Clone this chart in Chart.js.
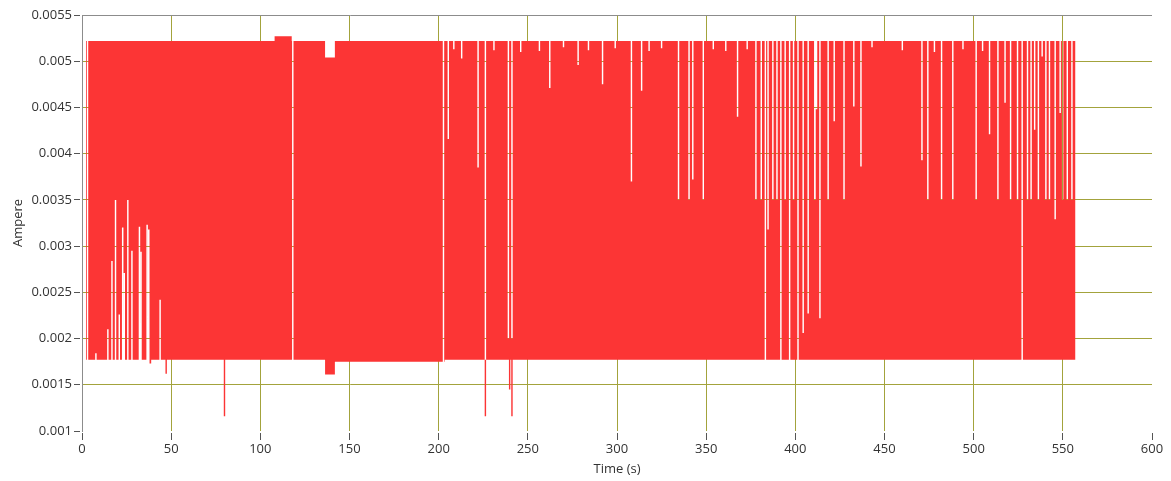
<!DOCTYPE html>
<html>
<head>
<meta charset="utf-8">
<title>Ampere</title>
<script src="https://cdn.jsdelivr.net/npm/chart.js@4.4.0/dist/chart.umd.min.js"></script>
<style>
  html, body { margin: 0; padding: 0; background: #fff; }
  canvas { display: block; }
</style>
</head>
<body>
<canvas id="grafico" width="1171" height="481"></canvas>
<script>
// ejes
const xTicks = [0, 50, 100, 150, 200, 250, 300, 350, 400, 450, 500, 550, 600];
const yTicks = [0.001, 0.0015, 0.002, 0.0025, 0.003, 0.0035, 0.004, 0.0045, 0.005, 0.0055];
const yTickLabels = ['0.001', '0.0015', '0.002', '0.0025', '0.003', '0.0035', '0.004', '0.0045', '0.005', '0.0055'];

// inicio y fin del registro (s)
const traceSpan = [2.2, 557.1];

// envolvente superior: cambios de nivel (s, A)
const peakStepTimes  = [2.2, 108.0, 117.6, 136.3, 141.8];
const peakStepLevels = [0.00522, 0.00527, 0.00522, 0.00504, 0.00522];

// envolvente inferior: cambios de nivel (s, A)
const troughStepTimes  = [2.2, 136.3, 141.8, 203.4];
const troughStepLevels = [0.00177, 0.00161, 0.00175, 0.00177];

// huecos desde arriba: el pico solo llega hasta ese nivel
const dipTimes = [205.4, 208.5, 212.9, 222.1, 231.0, 239.1, 241.1, 246.0, 256.5, 262.3, 270.0,
  278.2, 284.0, 291.9, 299.0, 308.1, 313.8, 318.0, 325.0, 334.5, 340.4, 342.5, 348.4, 354.0,
  361.0, 367.6, 373.0, 377.9, 380.9, 384.7, 387.4, 389.7, 394.3, 399.0, 404.4, 407.2, 410.9,
  411.9, 413.8, 418.4, 421.8, 427.3, 432.8, 436.8, 443.0, 460.0, 471.0, 474.3, 478.0, 482.0,
  488.3, 494.0, 501.4, 505.0, 508.9, 513.6, 517.6, 520.7, 524.6, 530.2, 532.2, 534.2, 536.3,
  538.4, 540.5, 542.5, 545.7, 548.5, 549.9, 552.5, 555.1];
const dipLevels = [0.00416, 0.00513, 0.00503, 0.00385, 0.00512, 0.0020, 0.0020, 0.00510, 0.00511, 0.00471, 0.00515,
  0.00496, 0.00512, 0.00475, 0.00514, 0.00370, 0.00468, 0.00511, 0.00514, 0.00350, 0.00350, 0.00372, 0.00350, 0.00513,
  0.00511, 0.00440, 0.00513, 0.00350, 0.00350, 0.00318, 0.00350, 0.00350, 0.00350, 0.00350, 0.00206, 0.00227, 0.00350,
  0.00448, 0.00222, 0.00350, 0.00435, 0.00350, 0.00451, 0.00386, 0.00515, 0.00512, 0.00393, 0.00350, 0.00510, 0.00350,
  0.00350, 0.00513, 0.00350, 0.00511, 0.00421, 0.00350, 0.00455, 0.00350, 0.00350, 0.00350, 0.00350, 0.00426, 0.00350,
  0.00505, 0.00350, 0.00350, 0.00329, 0.00444, 0.00350, 0.00350, 0.00350];

// cortes completos de la señal
const breakTimes = [3.1, 118.2, 202.7, 226.2, 383.2, 391.9, 396.8, 401.5, 527.2];

// huecos desde abajo: el valle solo baja hasta ese nivel
const riseTimes  = [7.8, 14.5, 16.8, 18.8, 20.9, 22.8, 23.7, 25.7, 28.0, 32.2, 33.1, 36.5, 37.4, 43.8];
const riseLevels = [0.00184, 0.00210, 0.00284, 0.00350, 0.00226, 0.00320, 0.00271, 0.00350, 0.00295, 0.00321, 0.00294, 0.00323, 0.00318, 0.00242];

// picos por debajo del valle
const spikeTimes  = [38.4, 47.2, 79.9, 226.2, 239.8, 241.1];
const spikeLevels = [0.00173, 0.00162, 0.00116, 0.00116, 0.00145, 0.00116];

const NOTCH = 0.4; // medio ancho de cada hueco, en segundos
const rojo = '#fc3535';
const oliva = '#a3a33c';
const gris = '#8c8c8c';
const nada = 'rgba(0,0,0,0)';

function levelAt(times, levels, t) {
  let lv = levels[0];
  times.forEach((tt, i) => { if (tt <= t) lv = levels[i]; });
  return lv;
}

// arma la envolvente como escalones con muescas angostas
function envolvente(stepTimes, stepLevels, notchTimes, notchLevels) {
  const eventos = [];
  for (let i = 1; i < stepTimes.length; i++) {
    eventos.push({ t: stepTimes[i], step: true, y: stepLevels[i] });
  }
  notchTimes.forEach((t, i) => eventos.push({ t, step: false, y: notchLevels[i] }));
  eventos.sort((a, b) => a.t - b.t);

  let actual = stepLevels[0];
  const puntos = [{ x: traceSpan[0], y: actual }];
  eventos.forEach(e => {
    if (e.step) {
      puntos.push({ x: e.t, y: actual }, { x: e.t, y: e.y });
      actual = e.y;
    } else {
      puntos.push(
        { x: e.t - NOTCH, y: actual },
        { x: e.t - NOTCH, y: e.y },
        { x: e.t + NOTCH, y: e.y },
        { x: e.t + NOTCH, y: actual }
      );
    }
  });
  puntos.push({ x: traceSpan[1], y: actual });
  return puntos;
}

const breakLevels = breakTimes.map(t => levelAt(troughStepTimes, troughStepLevels, t));

const valle = envolvente(troughStepTimes, troughStepLevels,
  riseTimes.concat(spikeTimes), riseLevels.concat(spikeLevels));
const pico = envolvente(peakStepTimes, peakStepLevels,
  dipTimes.concat(breakTimes), dipLevels.concat(breakLevels));

const fuente = { family: "'Open Sans', 'Noto Sans', sans-serif", size: 13 };

// color de la grilla segun el valor de la marca
const colorGrillaX = ctx => {
  const v = ctx.tick ? ctx.tick.value : null;
  return (v === xTicks[0] || v === xTicks[xTicks.length - 1]) ? nada : oliva;
};
const colorGrillaY = ctx => {
  const v = ctx.tick ? ctx.tick.value : null;
  if (v === yTicks[yTicks.length - 1]) return gris;
  if (v === yTicks[0]) return nada;
  return oliva;
};

new Chart(document.getElementById('grafico'), {
  type: 'line',
  data: {
    datasets: [
      {
        label: 'valle',
        data: valle,
        borderWidth: 0,
        pointRadius: 0,
        fill: false,
      },
      {
        label: 'Ampere',
        data: pico,
        borderWidth: 0,
        pointRadius: 0,
        backgroundColor: rojo,
        fill: '-1',
      },
    ],
  },
  options: {
    responsive: false,
    devicePixelRatio: 1,
    animation: false,
    layout: { padding: { top: 15, right: 19, left: 0, bottom: 0 } },
    plugins: {
      legend: { display: false },
      tooltip: { enabled: false },
    },
    scales: {
      x: {
        type: 'linear',
        min: 0,
        max: 600,
        afterBuildTicks: axis => { axis.ticks = xTicks.map(v => ({ value: v })); },
        afterFit: axis => { axis.height = 50; },
        border: { display: false },
        grid: {
          color: colorGrillaX,
          tickColor: '#555',
          tickLength: 9,
          tickBorderDash: [0, 2, 7],
        },
        ticks: { color: '#333', font: fuente, padding: 1, maxRotation: 0 },
        title: {
          display: true,
          text: 'Time (s)',
          color: '#333',
          font: fuente,
          padding: { top: 0, bottom: 4 },
        },
      },
      y: {
        type: 'linear',
        min: 0.001,
        max: 0.0055,
        afterBuildTicks: axis => { axis.ticks = yTicks.map(v => ({ value: v })); },
        afterFit: axis => { axis.width = 82; },
        border: { display: true, color: gris, width: 1 },
        grid: {
          color: colorGrillaY,
          tickColor: '#555',
          tickLength: 8,
          tickBorderDash: [6, 2],
        },
        ticks: {
          color: '#333',
          font: fuente,
          padding: 2,
          callback: (v, i) => yTickLabels[i],
        },
        title: {
          display: true,
          text: 'Ampere',
          color: '#333',
          font: fuente,
          padding: { top: 10, bottom: 0 },
        },
      },
    },
  },
});
</script>
</body>
</html>
